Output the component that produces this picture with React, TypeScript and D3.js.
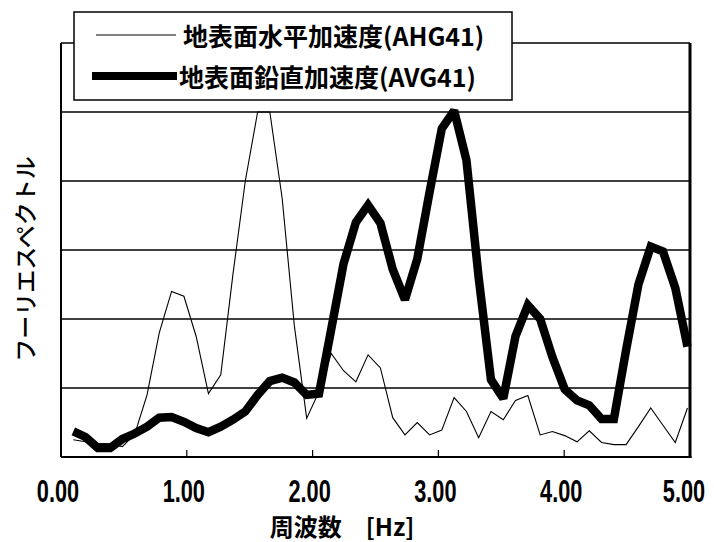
import * as d3 from 'd3'

// frequency of each spectrum point [Hz]
const freqs = [
  0.098, 0.195, 0.293, 0.391, 0.488, 0.586, 0.684, 0.781, 0.879, 0.977,
  1.074, 1.172, 1.27, 1.367, 1.465, 1.563, 1.66, 1.758, 1.855, 1.953,
  2.051, 2.148, 2.246, 2.344, 2.441, 2.539, 2.637, 2.734, 2.832, 2.93,
  3.027, 3.125, 3.223, 3.32, 3.418, 3.516, 3.613, 3.711, 3.809, 3.906,
  4.004, 4.102, 4.199, 4.297, 4.395, 4.492, 4.59, 4.688, 4.785, 4.883,
  4.98,
]

// 地表面水平加速度 (AHG41)
const horizontalAcc = [
  0.25, 0.22, 0.2, 0.19, 0.15, 0.33, 0.9, 1.8, 2.4, 2.33,
  1.75, 0.92, 1.19, 2.65, 4.0, 5.0, 5.0, 3.75, 1.9, 0.56,
  0.95, 1.5, 1.25, 1.09, 1.48, 1.29, 0.57, 0.32, 0.5, 0.32,
  0.39, 0.86, 0.66, 0.28, 0.66, 0.54, 0.82, 0.89, 0.32, 0.37,
  0.31, 0.22, 0.38, 0.21, 0.18, 0.18, 0.44, 0.71, 0.46, 0.21,
  0.71,
]

// 地表面鉛直加速度 (AVG41)
const verticalAcc = [
  0.37, 0.29, 0.13, 0.13, 0.26, 0.34, 0.44, 0.57, 0.58, 0.51,
  0.42, 0.36, 0.44, 0.54, 0.66, 0.9, 1.1, 1.15, 1.08, 0.9,
  0.92, 1.85, 2.8, 3.4, 3.65, 3.39, 2.72, 2.28, 2.87, 3.84,
  4.76, 5.02, 4.3, 2.6, 1.12, 0.85, 1.75, 2.2, 2.0, 1.45,
  0.98, 0.82, 0.75, 0.55, 0.55, 1.55, 2.5, 3.05, 2.98, 2.45,
  1.6,
]

const xTickValues = [0, 1, 2, 3, 4, 5]
const gridValues = [1, 2, 3, 4, 5]
const seriesNames = ['地表面水平加速度(AHG41)', '地表面鉛直加速度(AVG41)']
const yTitle = 'フーリエスペクトル'
const xTitle = '周波数　[Hz]'

const width = 714
const height = 542
const left = 61
const right = 690
const top = 43
const bottom = 457

const cjk = "'Noto Sans CJK JP', 'Noto Sans', sans-serif"
const latin = "'Liberation Sans', Arial, sans-serif"

export default function App() {
  const x = d3.scaleLinear().domain([0, 5]).range([left, right])
  const y = d3.scaleLinear().domain([0, 6]).range([bottom, top])

  const line = d3
    .line<number>()
    .x((_, i) => x(freqs[i]))
    .y((d) => y(d))

  return (
    <svg
      width={width}
      height={height}
      style={{ position: 'absolute', left: 0, top: 0, background: '#fff' }}
    >
      <rect x={0} y={0} width={width} height={height} fill="#fff" />

      {/* horizontal grid lines */}
      {gridValues.map((v) => (
        <line key={v} x1={left} x2={right} y1={y(v)} y2={y(v)} stroke="#000" strokeWidth={1.4} />
      ))}

      {/* the two spectra */}
      <path d={line(horizontalAcc) || ''} fill="none" stroke="#000" strokeWidth={1.1} />
      <path
        d={line(verticalAcc) || ''}
        fill="none"
        stroke="#000"
        strokeWidth={8.5}
        strokeLinejoin="miter"
        strokeMiterlimit={2}
      />

      {/* plot frame */}
      <line x1={left} x2={right} y1={top} y2={top} stroke="#000" strokeWidth={1.5} />
      <line x1={left} x2={left} y1={top} y2={bottom} stroke="#000" strokeWidth={2} />
      <line x1={right} x2={right} y1={top} y2={bottom + 1} stroke="#000" strokeWidth={3} />
      <line x1={left} x2={right + 1.5} y1={bottom} y2={bottom} stroke="#000" strokeWidth={2.2} />

      {/* x ticks and labels (condensed bold digits) */}
      {xTickValues.map((v) => (
        <g key={v}>
          {v > 0 && v < 5 && (
            <line x1={x(v)} x2={x(v)} y1={bottom} y2={bottom - 7} stroke="#000" strokeWidth={1.2} />
          )}
          <text
            transform={`translate(${x(v) - (v === 5 ? 6 : 3)},502) scale(0.68,1)`}
            textAnchor="middle"
            fontFamily={latin}
            fontWeight="bold"
            fontSize={32}
          >
            {d3.format('.2f')(v)}
          </text>
        </g>
      ))}

      {/* axis titles */}
      <text
        x={342}
        y={525}
        textAnchor="middle"
        dominantBaseline="central"
        fontFamily={cjk}
        fontWeight="bold"
        fontSize={24}
      >
        {xTitle}
      </text>
      <text
        transform="translate(24,259) rotate(-90)"
        textAnchor="middle"
        dominantBaseline="central"
        fontFamily={cjk}
        fontWeight={500}
        fontSize={23}
      >
        {yTitle}
      </text>

      {/* legend */}
      <rect x={74} y={12} width={438} height={88} fill="#fff" stroke="#000" strokeWidth={1.5} />
      <line x1={96} x2={176} y1={35} y2={35} stroke="#000" strokeWidth={1.1} />
      <line x1={92} x2={177} y1={76} y2={76} stroke="#000" strokeWidth={8} />
      {seriesNames.map((name, i) => (
        <text
          key={name}
          x={i === 0 ? 183 : 179}
          y={i === 0 ? 35 : 76}
          dominantBaseline="central"
          fontFamily={cjk}
          fontWeight="bold"
          fontSize={25}
        >
          {name}
        </text>
      ))}
    </svg>
  )
}
